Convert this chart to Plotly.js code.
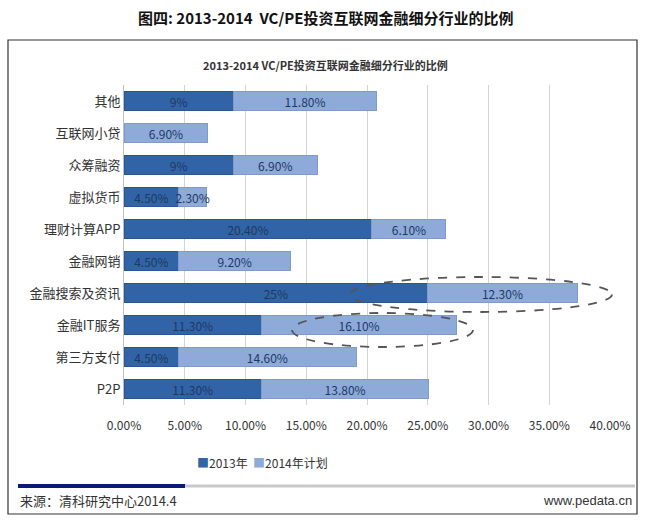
<!DOCTYPE html>
<html>
<head>
<meta charset="utf-8">
<script src="https://cdn.plot.ly/plotly-3.0.1.min.js"></script>
<style>html,body{margin:0;padding:0;background:#fff;}#chart{width:650px;height:521px;}</style>
</head>
<body>
<div id="chart"></div>
<script>
var categories = ["其他","互联网小贷","众筹融资","虚拟货币","理财计算APP","金融网销","金融搜索及资讯","金融IT服务","第三方支付","P2P"];
var values2013 = [9, 0, 9, 4.5, 20.4, 4.5, 25, 11.3, 4.5, 11.3];
var values2014 = [11.8, 6.9, 6.9, 2.3, 6.1, 9.2, 12.3, 16.1, 14.6, 13.8];
var labels2013 = ["9%", "", "9%", "4.50%", "20.40%", "4.50%", "25%", "11.30%", "4.50%", "11.30%"];
var labels2014 = ["11.80%", "6.90%", "6.90%", "2.30%", "6.10%", "9.20%", "12.30%", "16.10%", "14.60%", "13.80%"];
var tickVals = [0, 5, 10, 15, 20, 25, 30, 35, 40];
var tickText = ["0.00%","5.00%","10.00%","15.00%","20.00%","25.00%","30.00%","35.00%","40.00%"];
var seriesNames = ["2013年", "2014年计划"];
var seriesColors = ["#3164a6", "#8eaad8"];

var FONT = "'Liberation Sans Narrow', 'Noto Sans CJK SC', sans-serif";
var CJK = "'Noto Sans CJK SC', 'Liberation Sans Narrow', sans-serif";

var traces = [
  {type:'bar', orientation:'h', name:seriesNames[0], y:categories, x:values2013, text:labels2013,
   textposition:'inside', insidetextanchor:'middle', constraintext:'none',
   textfont:{color:'#1f3864', size:12, family:FONT},
   marker:{color:seriesColors[0], line:{color:'#2a5590', width:1}}, hoverinfo:'skip', showlegend:false},
  {type:'bar', orientation:'h', name:seriesNames[1], y:categories, x:values2014, text:labels2014,
   textposition:'inside', insidetextanchor:'middle', constraintext:'none',
   textfont:{color:'#1f3864', size:12, family:FONT},
   marker:{color:seriesColors[1], line:{color:'#7f9bcb', width:1}}, hoverinfo:'skip', showlegend:false}
];

function px2x(p){return (p-124)/486;}
function py2y(p){return (405-p)/320;}

var legendText = '<span style="color:' + seriesColors[0] + '">■</span>' + seriesNames[0] +
                 '  <span style="color:' + seriesColors[1] + '">■</span>' + seriesNames[1];

var layout = {
  width:650, height:521,
  margin:{l:124, r:40, t:85, b:116},
  paper_bgcolor:'#ffffff', plot_bgcolor:'#ffffff',
  barmode:'stack', bargap:0.38,
  font:{family:FONT, color:'#333333', size:12},
  showlegend:false,
  xaxis:{range:[0,40], tickvals:tickVals, ticktext:tickText, showgrid:true, gridcolor:'#d4d4d4', gridwidth:1,
         zeroline:false, showline:false, ticks:'', ticklabelstandoff:12,
         tickfont:{family:FONT, size:12, color:'#333'}, fixedrange:true},
  yaxis:{type:'category', autorange:'reversed', showgrid:false, showline:true, linecolor:'#bfbfbf', linewidth:1,
         ticks:'', ticklen:0, tickfont:{family:CJK, size:13, color:'#333'}, fixedrange:true},
  shapes:[
    {type:'rect', xref:'paper', yref:'paper', x0:px2x(8), x1:px2x(637), y0:py2y(514), y1:py2y(40),
     line:{color:'#333333', width:1.2}, fillcolor:'rgba(0,0,0,0)', layer:'below'},
    {type:'line', xref:'paper', yref:'paper', x0:px2x(185), x1:px2x(635), y0:py2y(486), y1:py2y(486),
     line:{color:'#c8c8c8', width:3}},
    {type:'line', xref:'paper', yref:'paper', x0:px2x(18), x1:px2x(185), y0:py2y(486), y1:py2y(486),
     line:{color:'#0b1a78', width:4}},
    {type:'circle', xref:'paper', yref:'paper', x0:px2x(350), x1:px2x(612), y0:py2y(312), y1:py2y(277),
     line:{color:'#555555', width:1.8, dash:'dash'}, fillcolor:'rgba(0,0,0,0)'},
    {type:'circle', xref:'paper', yref:'paper', x0:px2x(292), x1:px2x(473), y0:py2y(347), y1:py2y(313),
     line:{color:'#555555', width:1.8, dash:'dash'}, fillcolor:'rgba(0,0,0,0)'}
  ],
  annotations:[
    {text:'<b>图四: 2013-2014  VC/PE投资互联网金融细分行业的比例</b>', xref:'paper', yref:'paper',
     x:px2x(325), y:py2y(18), xanchor:'center', yanchor:'middle', showarrow:false,
     font:{family:CJK, size:15, color:'#111'}},
    {text:'<b>2013-2014 VC/PE投资互联网金融细分行业的比例</b>', xref:'paper', yref:'paper',
     x:px2x(325), y:py2y(65), xanchor:'center', yanchor:'middle', showarrow:false,
     font:{family:FONT, size:11, color:'#333'}},
    {text:legendText, xref:'paper', yref:'paper', x:px2x(262), y:py2y(462),
     xanchor:'center', yanchor:'middle', showarrow:false, font:{family:CJK, size:12, color:'#333'}},
    {text:'来源：清科研究中心2014.4', xref:'paper', yref:'paper', x:px2x(18), y:py2y(500),
     xanchor:'left', yanchor:'middle', showarrow:false, font:{family:CJK, size:13, color:'#333'}},
    {text:'www.pedata.cn', xref:'paper', yref:'paper', x:px2x(634), y:py2y(500),
     xanchor:'right', yanchor:'middle', showarrow:false, font:{family:"'Liberation Sans', sans-serif", size:13, color:'#333'}}
  ]
};

Plotly.newPlot('chart', traces, layout, {displayModeBar:false, staticPlot:true});
</script>
</body>
</html>
